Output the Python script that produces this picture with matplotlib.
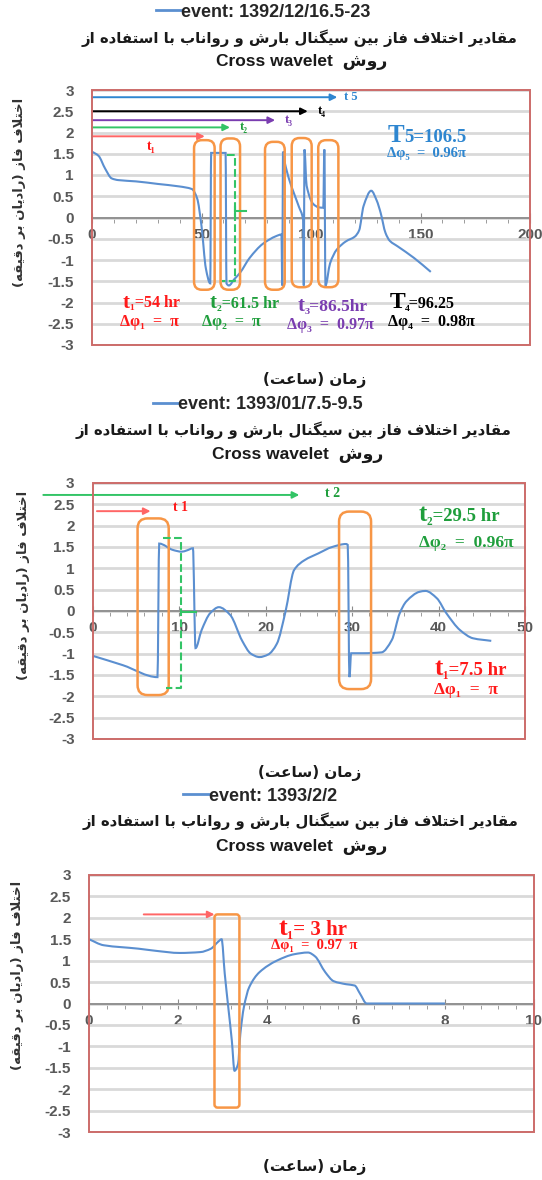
import matplotlib
matplotlib.use('Agg')
import matplotlib.pyplot as plt
import numpy as np
from matplotlib.lines import Line2D
from matplotlib.path import Path
from matplotlib.patches import FancyBboxPatch, Rectangle, PathPatch
from matplotlib.offsetbox import TextArea, HPacker, AnnotationBbox
from matplotlib.ticker import MultipleLocator, FuncFormatter

# phase difference series (hours, radians)
hours_a = [0, 3, 6, 9, 12, 20, 30, 40, 45.6, 48, 50, 52, 54, 54.4, 61.0, 61.4, 62.5,
           65, 67.6, 72, 78, 84, 86.5, 86.9, 87.2, 88, 90, 92, 94.5, 96.4,
           96.7, 97.0, 98, 101, 103.5, 105.6, 106.1, 106.6, 108.7, 111.7, 116, 120, 122, 124,
           127.5, 130, 131.8, 134, 136, 139.6, 147, 154.7]
phase_a = [1.55, 1.45, 1.15, 0.92, 0.88, 0.85, 0.79, 0.73, 0.67, 0.45, -0.2, -1.2, -1.55, 1.52, 1.52, -1.55, -1.6,
           -1.45, -1.3, -0.95, -0.62, -0.44, -0.4, -1.6, 1.55, 1.3, 0.9, 0.6, 0.25, -0.05,
           -1.6, 1.6, 0.75, 0.32, 0.24, 0.23, 1.6, -1.6, -1.08, -0.76, -0.56, -0.45, -0.3, 0.27,
           0.63, 0.4, 0.11, -0.36, -0.55, -0.68, -0.95, -1.28]

hours_b = [0, 3.5, 7.5, 7.7, 9.3, 10.3, 10.9, 11.6, 11.9, 12.6, 13.6, 14.6, 15.9, 17.3, 18.3,
           19.3, 20.3, 21.3, 22.3, 23.3, 24.5, 26.1, 27.7, 29.3, 29.5, 29.7, 29.9, 31.3,
           33.4, 34.6, 35.5, 36.3, 37.8, 38.5, 39.8, 40.9, 42.5, 44, 46.1]
phase_b = [-1.05, -1.27, -1.55, 1.58, 1.43, 1.39, 1.42, 1.47, -0.87, -0.45, -0.05, 0.09, -0.09, -0.7, -1.0,
           -1.08, -1.02, -0.77, -0.02, 0.96, 1.19, 1.35, 1.5, 1.57, 1.55, -1.55, -0.99, -0.99,
           -0.97, -0.68, -0.06, 0.23, 0.45, 0.47, 0.3, -0.05, -0.45, -0.64, -0.7]

hours_c = [0, 0.33, 1.11, 1.5, 2.04, 2.5, 2.74, 2.9, 2.98, 3.05, 3.13, 3.21, 3.27, 3.35, 3.40,
           3.48, 3.6, 3.83, 4.22, 4.61, 4.92, 5.08, 5.31, 5.5, 5.78, 5.97, 6.09, 6.24, 6.35, 8.0]
phase_c = [1.5, 1.36, 1.28, 1.23, 1.18, 1.2, 1.28, 1.44, 1.5, 0.7, -0.09, -0.87, -1.57, -1.41, -0.72,
           -0.09, 0.38, 0.73, 1.0, 1.15, 1.19, 1.1, 0.73, 0.52, 0.45, 0.42, 0.23, 0.0, 0.0, 0.0]

events = ['event: 1392/12/16.5-23', 'event: 1393/01/7.5-9.5', 'event: 1393/2/2']

# highlighted windows: (start hour, end hour, low, high)
windows_a = [(46.6, 56.0, -1.70, 1.82), (58.7, 67.6, -1.70, 1.86), (79.0, 88.0, -1.70, 1.78),
             (91.2, 100.3, -1.64, 1.87), (103.3, 112.5, -1.64, 1.82)]
windows_b = [(5.2, 8.8, -1.97, 2.17), (28.5, 32.2, -1.83, 2.33)]
windows_c = [(2.82, 3.38, -2.43, 2.08)]

BLUE = '#5b8fd0'
ORANGE = '#f79646'
BORDER = '#cc6b69'
GRID = '#d9d9d9'
TICK = '#595959'
RED = '#ff1a1a'
GREEN = '#1f9e3c'
LGREEN = '#33c466'
PURPLE = '#7a3db0'
TBLUE = '#2e86d0'

SERIF = ['Liberation Serif', 'DejaVu Serif']
LATIN = ['Liberation Sans', 'DejaVu Sans']
FA = ['DejaVu Sans']

plt.rcParams['font.family'] = LATIN
plt.rcParams['font.weight'] = 'bold'

# contextual forms for the Persian letters used in the labels
AR_FORMS = {
    'ا': ('\ufe8d', '\ufe8e', '', ''),
    'ب': ('\ufe8f', '\ufe90', '\ufe91', '\ufe92'),
    'ت': ('\ufe95', '\ufe96', '\ufe97', '\ufe98'),
    'خ': ('\ufea5', '\ufea6', '\ufea7', '\ufea8'),
    'د': ('\ufea9', '\ufeaa', '', ''),
    'ر': ('\ufead', '\ufeae', '', ''),
    'ز': ('\ufeaf', '\ufeb0', '', ''),
    'س': ('\ufeb1', '\ufeb2', '\ufeb3', '\ufeb4'),
    'ش': ('\ufeb5', '\ufeb6', '\ufeb7', '\ufeb8'),
    'ع': ('\ufec9', '\ufeca', '\ufecb', '\ufecc'),
    'ف': ('\ufed1', '\ufed2', '\ufed3', '\ufed4'),
    'ق': ('\ufed5', '\ufed6', '\ufed7', '\ufed8'),
    'ل': ('\ufedd', '\ufede', '\ufedf', '\ufee0'),
    'م': ('\ufee1', '\ufee2', '\ufee3', '\ufee4'),
    'ن': ('\ufee5', '\ufee6', '\ufee7', '\ufee8'),
    'ه': ('\ufee9', '\ufeea', '\ufeeb', '\ufeec'),
    'و': ('\ufeed', '\ufeee', '', ''),
    'ک': ('\ufb8e', '\ufb8f', '\ufb90', '\ufb91'),
    'گ': ('\ufb92', '\ufb93', '\ufb94', '\ufb95'),
    'ی': ('\ufbfc', '\ufbfd', '\ufbfe', '\ufbff'),
    '\ufefb': ('\ufefb', '\ufefc', '', ''),
}


def fa(text):
    text = text.replace('لا', '\ufefb')
    out = []
    for i, ch in enumerate(text):
        if ch not in AR_FORMS:
            out.append(ch)
            continue
        iso, fin, ini, med = AR_FORMS[ch]
        prev = text[i - 1] if i > 0 else ''
        nxt = text[i + 1] if i + 1 < len(text) else ''
        join_prev = prev in AR_FORMS and AR_FORMS[prev][2] != ''
        join_next = nxt in AR_FORMS and ini != ''
        if join_prev and join_next:
            out.append(med)
        elif join_prev:
            out.append(fin)
        elif join_next:
            out.append(ini)
        else:
            out.append(iso)
    mirror = {'(': ')', ')': '('}
    return ''.join(mirror.get(c, c) for c in reversed(out))


TITLE = fa('مقادیر اختلاف فاز بین سیگنال بارش و رواناب با استفاده از')
METHOD = 'Cross wavelet  ' + fa('روش')
XLABEL = fa('زمان (ساعت)')
YLABEL = fa('اختلاف فاز (رادیان بر دقیقه)')


def smooth_path(x, y):
    # smoothed line through every point: monotone cubic segments as Bezier curves
    x = np.asarray(x, float)
    y = np.asarray(y, float)
    dx = np.diff(x)
    d = np.diff(y) / dx
    m = np.empty_like(y)
    m[0], m[-1] = d[0], d[-1]
    for i in range(1, len(x) - 1):
        if d[i - 1] * d[i] <= 0:
            m[i] = 0.0
        else:
            m[i] = 2.0 / (1.0 / d[i - 1] + 1.0 / d[i])
    verts = [(x[0], y[0])]
    codes = [Path.MOVETO]
    for i in range(len(x) - 1):
        h = dx[i] / 3
        verts += [(x[i] + h, y[i] + m[i] * h), (x[i + 1] - h, y[i + 1] - m[i + 1] * h),
                  (x[i + 1], y[i + 1])]
        codes += [Path.CURVE4] * 3
    return Path(verts, codes)


def series(ax, x, y):
    ax.add_patch(PathPatch(smooth_path(x, y), fill=False, ec=BLUE, lw=1.5, zorder=3))
    return Line2D([], [], color=BLUE, lw=2)


def setup(ax, xmax, major, minor):
    ax.set_xlim(0, xmax)
    ax.set_ylim(-3, 3)
    ax.set_yticks(np.arange(-3, 3.01, 0.5))
    ax.yaxis.set_major_formatter(FuncFormatter(lambda v, p: '0' if abs(v) < 1e-9 else f'{v:g}'))
    ax.xaxis.set_major_locator(MultipleLocator(major))
    ax.xaxis.set_minor_locator(MultipleLocator(minor))
    ax.grid(axis='y', color=GRID, lw=2)
    ax.set_axisbelow(True)
    for s in ('left', 'right', 'top'):
        ax.spines[s].set_visible(False)
    ax.spines['bottom'].set_position(('data', 0))
    ax.spines['bottom'].set_color('#8c8c8c')
    ax.spines['bottom'].set_linewidth(1.3)
    ax.add_patch(Rectangle((0, 0), 1, 1, transform=ax.transAxes, fill=False,
                           ec=BORDER, lw=1.4, clip_on=False, zorder=6))
    ax.tick_params(axis='y', length=0, pad=13, labelsize=11, labelcolor=TICK)
    ax.tick_params(axis='x', which='major', direction='inout', length=7, color='#8c8c8c',
                   pad=4, labelsize=11, labelcolor=TICK)
    ax.tick_params(axis='x', which='minor', direction='out', length=3.5, color='#8c8c8c')


def windows(ax, spans, radius, aspect):
    for x0, x1, y0, y1 in spans:
        ax.add_patch(FancyBboxPatch((x0, y0), x1 - x0, y1 - y0,
                                    boxstyle=f'round,pad=0,rounding_size={radius}',
                                    mutation_aspect=aspect, fill=False, ec=ORANGE, lw=1.8, zorder=4))


def arrow(ax, x0, x1, y, color, lw=1.4):
    ax.annotate('', xy=(x1, y), xytext=(x0, y), annotation_clip=False,
                arrowprops=dict(arrowstyle='-|>', color=color, lw=lw, mutation_scale=10,
                                shrinkA=0, shrinkB=0, clip_on=False))


def tag(ax, x, y, big, rest, color, big_size=15, size=11):
    parts = [TextArea(big, textprops=dict(color=color, fontsize=big_size, fontweight='bold', family=SERIF)),
             TextArea(rest, textprops=dict(color=color, fontsize=size, fontweight='bold', family=SERIF))]
    box = HPacker(children=parts, align='baseline', pad=0, sep=0)
    ax.add_artist(AnnotationBbox(box, (x, y), xycoords='data', frameon=False,
                                 box_alignment=(0, 0.5), pad=0, annotation_clip=False, zorder=7))


def note(ax, x, y, s, color, size=10):
    ax.text(x, y, s, color=color, fontsize=size, fontweight='bold', family=SERIF,
            ha='left', va='center', zorder=7, clip_on=False)


def headings(fig, ax, handle, label, leg_xy, title_xy, method_xy, xlab_xy, ylab_xy):
    leg = ax.legend([handle], [label], loc='center', bbox_to_anchor=leg_xy,
                    bbox_transform=fig.transFigure, frameon=False, handlelength=1.4,
                    handletextpad=0.0, prop=dict(family=LATIN, weight='bold', size=13))
    for t in leg.get_texts():
        t.set_color('#262626')
    fig.text(*title_xy, TITLE, ha='center', va='center', fontsize=10.7, family=FA,
             fontweight='bold', color='#1a1a1a')
    fig.text(*method_xy, METHOD, ha='center', va='center', fontsize=12.5, family=LATIN,
             fontweight='bold', color='#1a1a1a')
    ax.set_xlabel(XLABEL, family=FA, fontsize=11, fontweight='bold', color='#1a1a1a')
    ax.xaxis.set_label_coords(*xlab_xy)
    ax.xaxis.label.set_va('center')
    ax.set_ylabel(YLABEL, family=FA, fontsize=9.5, fontweight='bold', color='#333333')
    ax.yaxis.set_label_coords(*ylab_xy)
    ax.yaxis.label.set_va('center')


fig = plt.figure(figsize=(5.42, 11.8), dpi=100)
W, H = 542, 1180

# ---- event 1392/12/16.5-23
ax1 = fig.add_axes([92 / W, 1 - 345 / H, 438 / W, 255 / H])
setup(ax1, 200, 50, 10)
line1 = series(ax1, hours_a, phase_a)
windows(ax1, windows_a, 3.6, 2.19 / 42)
ax1.plot([61.5, 65.3, 65.3, 59.2], [1.47, 1.47, -1.5, -1.5], ls='--', color=LGREEN, lw=1.5, zorder=4)
ax1.plot([65.3, 70.2], [0.15, 0.15], color=LGREEN, lw=1.5, zorder=4)
ax1.plot([65.3, 65.3], [0.05, 0.25], color=LGREEN, lw=1.5, zorder=4)
arrow(ax1, 0, 112, 2.83, TBLUE)
arrow(ax1, 0, 98.5, 2.5, 'black')
arrow(ax1, 0, 83.6, 2.29, PURPLE)
arrow(ax1, 0, 63, 2.12, LGREEN)
arrow(ax1, 0, 51.5, 1.91, '#ff6666')
note(ax1, 115, 2.83, 't 5', TBLUE, 9)
note(ax1, 103, 2.5, 't₄', 'black', 9)
note(ax1, 88, 2.29, 't₃', PURPLE, 9)
note(ax1, 67.5, 2.12, 't₂', GREEN, 9)
note(ax1, 25, 1.67, 't₁', RED, 10)
tag(ax1, 135, 1.94, 'T', '5=106.5', TBLUE, 18, 13.5)
note(ax1, 134.5, 1.5, 'Δφ₅  =  0.96π', TBLUE, 10.5)
tag(ax1, 14, -2.0, 't', '₁=54 hr', RED, 15, 11.5)
note(ax1, 13, -2.45, 'Δφ₁  =  π', RED, 11.5)
tag(ax1, 53.7, -2.02, 't', '₂=61.5 hr', GREEN, 15, 11.5)
note(ax1, 50.4, -2.45, 'Δφ₂  =  π', GREEN, 11.5)
tag(ax1, 94, -2.08, 't', '₃=86.5hr', PURPLE, 15, 12.5)
note(ax1, 89, -2.52, 'Δφ₃  =  0.97π', PURPLE, 11.5)
tag(ax1, 135.8, -2.0, 'T', '₄=96.25', 'black', 17, 11.5)
note(ax1, 135, -2.45, 'Δφ₄  =  0.98π', 'black', 11.5)
headings(fig, ax1, line1, events[0], (0.485, 0.9898), (0.553, 0.9678), (0.557, 0.9475),
         (0.509, -0.137), (-0.165, 0.60))

# ---- event 1393/01/7.5-9.5
ax2 = fig.add_axes([92.6 / W, 1 - 739 / H, 432.4 / W, 256 / H])
setup(ax2, 50, 10, 2)
line2 = series(ax2, hours_b, phase_b)
windows(ax2, windows_b, 1.15, 8.65 / 42.7)
ax2.plot([8.1, 10.2, 10.2, 8.5], [1.70, 1.70, -1.81, -1.81], ls='--', color=LGREEN, lw=1.5, zorder=4)
ax2.plot([10.2, 12.0], [-0.02, -0.02], color=LGREEN, lw=1.5, zorder=4)
arrow(ax2, -5.7, 23.9, 2.72, LGREEN)
arrow(ax2, 0.5, 6.7, 2.34, '#ff6666')
note(ax2, 26.9, 2.75, 't 2', GREEN, 10)
note(ax2, 9.3, 2.42, 't 1', RED, 10)
tag(ax2, 37.7, 2.25, 't', '₂=29.5 hr', GREEN, 18, 13.5)
note(ax2, 37.7, 1.6, 'Δφ₂  =  0.96π', GREEN, 12.5)
tag(ax2, 39.5, -1.34, 't', '₁=7.5 hr', RED, 18, 13.5)
note(ax2, 39.5, -1.85, 'Δφ₁  =  π', RED, 12.5)
headings(fig, ax2, line2, events[1], (0.476, 0.657), (0.542, 0.6356), (0.549, 0.6144),
         (0.503, -0.133), (-0.16, 0.60))

# ---- event 1393/2/2
ax3 = fig.add_axes([89 / W, 1 - 1132 / H, 445 / W, 257 / H])
setup(ax3, 10, 2, 0.4)
line3 = series(ax3, hours_c, phase_c)
windows(ax3, windows_c, 0.07, 44.5 / 42.7)
arrow(ax3, 1.23, 2.82, 2.08, '#ff6666')
tag(ax3, 4.26, 1.75, 't', '₁= 3 hr', RED, 19, 15)
note(ax3, 4.1, 1.36, 'Δφ₁  =  0.97  π', RED, 10.5)
headings(fig, ax3, line3, events[2], (0.48, 0.3254), (0.555, 0.3042), (0.557, 0.2825),
         (0.508, -0.136), (-0.16, 0.61))

fig.savefig('out.png', dpi=100)
